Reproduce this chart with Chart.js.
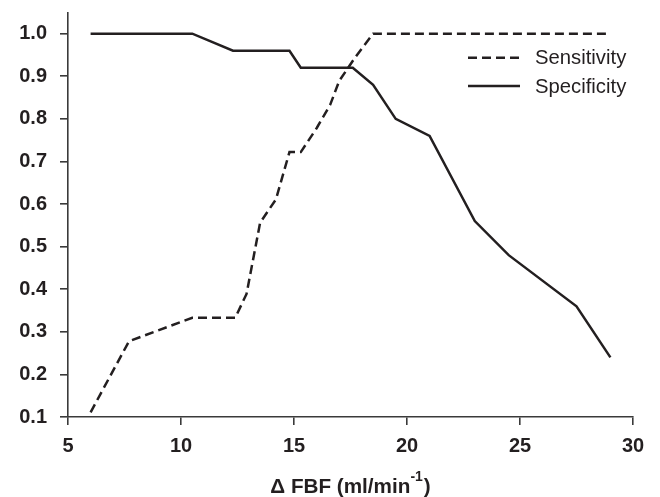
<!DOCTYPE html>
<html><head><meta charset="utf-8">
<script src="https://cdn.jsdelivr.net/npm/chart.js@4/dist/chart.umd.min.js"></script>
<style>html,body{margin:0;padding:0;background:#fff}</style>
</head><body>
<canvas id="c" width="660" height="497" style="display:block;width:660px;height:497px"></canvas>
<script>
// ---- data ----
const sensitivityX = [6.0, 7.7, 10.5, 12.4, 12.9, 13.5, 14.2, 14.8, 15.3, 16.0, 16.6, 17.0, 17.7, 18.5, 29.0];
const sensitivityY = [0.111, 0.278, 0.333, 0.333, 0.389, 0.556, 0.611, 0.722, 0.722, 0.778, 0.833, 0.889, 0.944, 1.0, 1.0];
const specificityX = [6.0, 10.5, 12.3, 14.8, 15.3, 17.6, 18.5, 19.5, 21.0, 23.0, 24.5, 27.5, 29.0];
const specificityY = [1.0, 1.0, 0.96, 0.96, 0.92, 0.92, 0.88, 0.80, 0.76, 0.56, 0.48, 0.36, 0.24];
const xTicks = [5, 10, 15, 20, 25, 30];
const yTicks = [0.1, 0.2, 0.3, 0.4, 0.5, 0.6, 0.7, 0.8, 0.9, 1.0];
const seriesNames = ['Sensitivity', 'Specificity'];
const xTitleMain = 'Δ FBF (ml/min';
const xTitleSup = '-1';
const xTitleEnd = ')';

const INK = '#231f20';
const FONT = "'Liberation Sans', Arial, Helvetica, sans-serif";

const toPts = (xs, ys) => xs.map((x, i) => ({x, y: ys[i]}));

const legendPlugin = {
  id: 'customLegend',
  afterDraw(chart) {
    const ctx = chart.ctx;
    const ds = chart.data.datasets;
    const rows = [57.7, 86];
    ctx.save();
    ds.forEach((d, i) => {
      const y = rows[i];
      ctx.beginPath();
      ctx.setLineDash(d.borderDash || []);
      ctx.lineWidth = d.borderWidth;
      ctx.strokeStyle = d.borderColor;
      ctx.moveTo(468, y);
      ctx.lineTo(520, y);
      ctx.stroke();
      ctx.setLineDash([]);
      ctx.fillStyle = INK;
      ctx.font = "20.3px " + FONT;
      ctx.textBaseline = 'middle';
      ctx.textAlign = 'left';
      ctx.fillText(d.label, 535, y + 1);
    });
    ctx.restore();
  }
};

const titlePlugin = {
  id: 'xTitle',
  afterDraw(chart) {
    const ctx = chart.ctx;
    const area = chart.chartArea;
    ctx.save();
    ctx.fillStyle = INK;
    ctx.textBaseline = 'alphabetic';
    ctx.textAlign = 'left';
    const fMain = "bold 20.7px " + FONT;
    const fSup = "bold 14px " + FONT;
    ctx.font = fMain;
    const w1 = ctx.measureText(xTitleMain).width;
    const w3 = ctx.measureText(xTitleEnd).width;
    ctx.font = fSup;
    const w2 = ctx.measureText(xTitleSup).width;
    const total = w1 + w2 + w3 + 1;
    let x = (area.left + area.right) / 2 - total / 2;
    const base = 492.5;
    ctx.font = fMain;
    ctx.fillText(xTitleMain, x, base);
    x += w1;
    ctx.font = fSup;
    ctx.fillText(xTitleSup, x, base - 12);
    x += w2 + 1;
    ctx.font = fMain;
    ctx.fillText(xTitleEnd, x, base);
    ctx.restore();
  }
};

new Chart(document.getElementById('c'), {
  type: 'line',
  data: {
    datasets: [
      {label: seriesNames[0], data: toPts(sensitivityX, sensitivityY), borderColor: INK, borderWidth: 2.5,
       borderDash: [9, 5], pointRadius: 0, tension: 0, fill: false},
      {label: seriesNames[1], data: toPts(specificityX, specificityY), borderColor: INK, borderWidth: 2.5,
       pointRadius: 0, tension: 0, fill: false}
    ]
  },
  options: {
    responsive: false,
    animation: false,
    layout: {padding: {top: 12.4, right: 27, left: 0, bottom: 0}},
    plugins: {legend: {display: false}, tooltip: {enabled: false}},
    scales: {
      x: {
        type: 'linear', min: 5, max: 30,
        afterBuildTicks: s => { s.ticks = xTicks.map(v => ({value: v})); },
        afterFit: s => { s.height = 80; s.paddingLeft = 0; s.paddingRight = 0; },
        border: {display: true, color: '#3a3a3a', width: 1.6},
        grid: {display: true, drawOnChartArea: false, drawTicks: true, tickLength: 8, color: '#3a3a3a', lineWidth: 1.6},
        ticks: {padding: 9, color: INK, font: {family: FONT, size: 20, weight: 'bold'}, maxRotation: 0}
      },
      y: {
        type: 'linear', min: 0.1, max: 1.05,
        afterBuildTicks: s => { s.ticks = yTicks.map(v => ({value: v})); },
        afterFit: s => { s.width = 68; s.paddingTop = 0; s.paddingBottom = 0; },
        border: {display: true, color: '#3a3a3a', width: 1.6},
        grid: {display: true, drawOnChartArea: false, drawTicks: true, tickLength: 8, color: '#3a3a3a', lineWidth: 1.6},
        ticks: {padding: 13, color: INK, font: {family: FONT, size: 20, weight: 'bold'},
                callback: v => v.toFixed(1)}
      }
    }
  },
  plugins: [legendPlugin, titlePlugin]
});
</script>
</body></html>
